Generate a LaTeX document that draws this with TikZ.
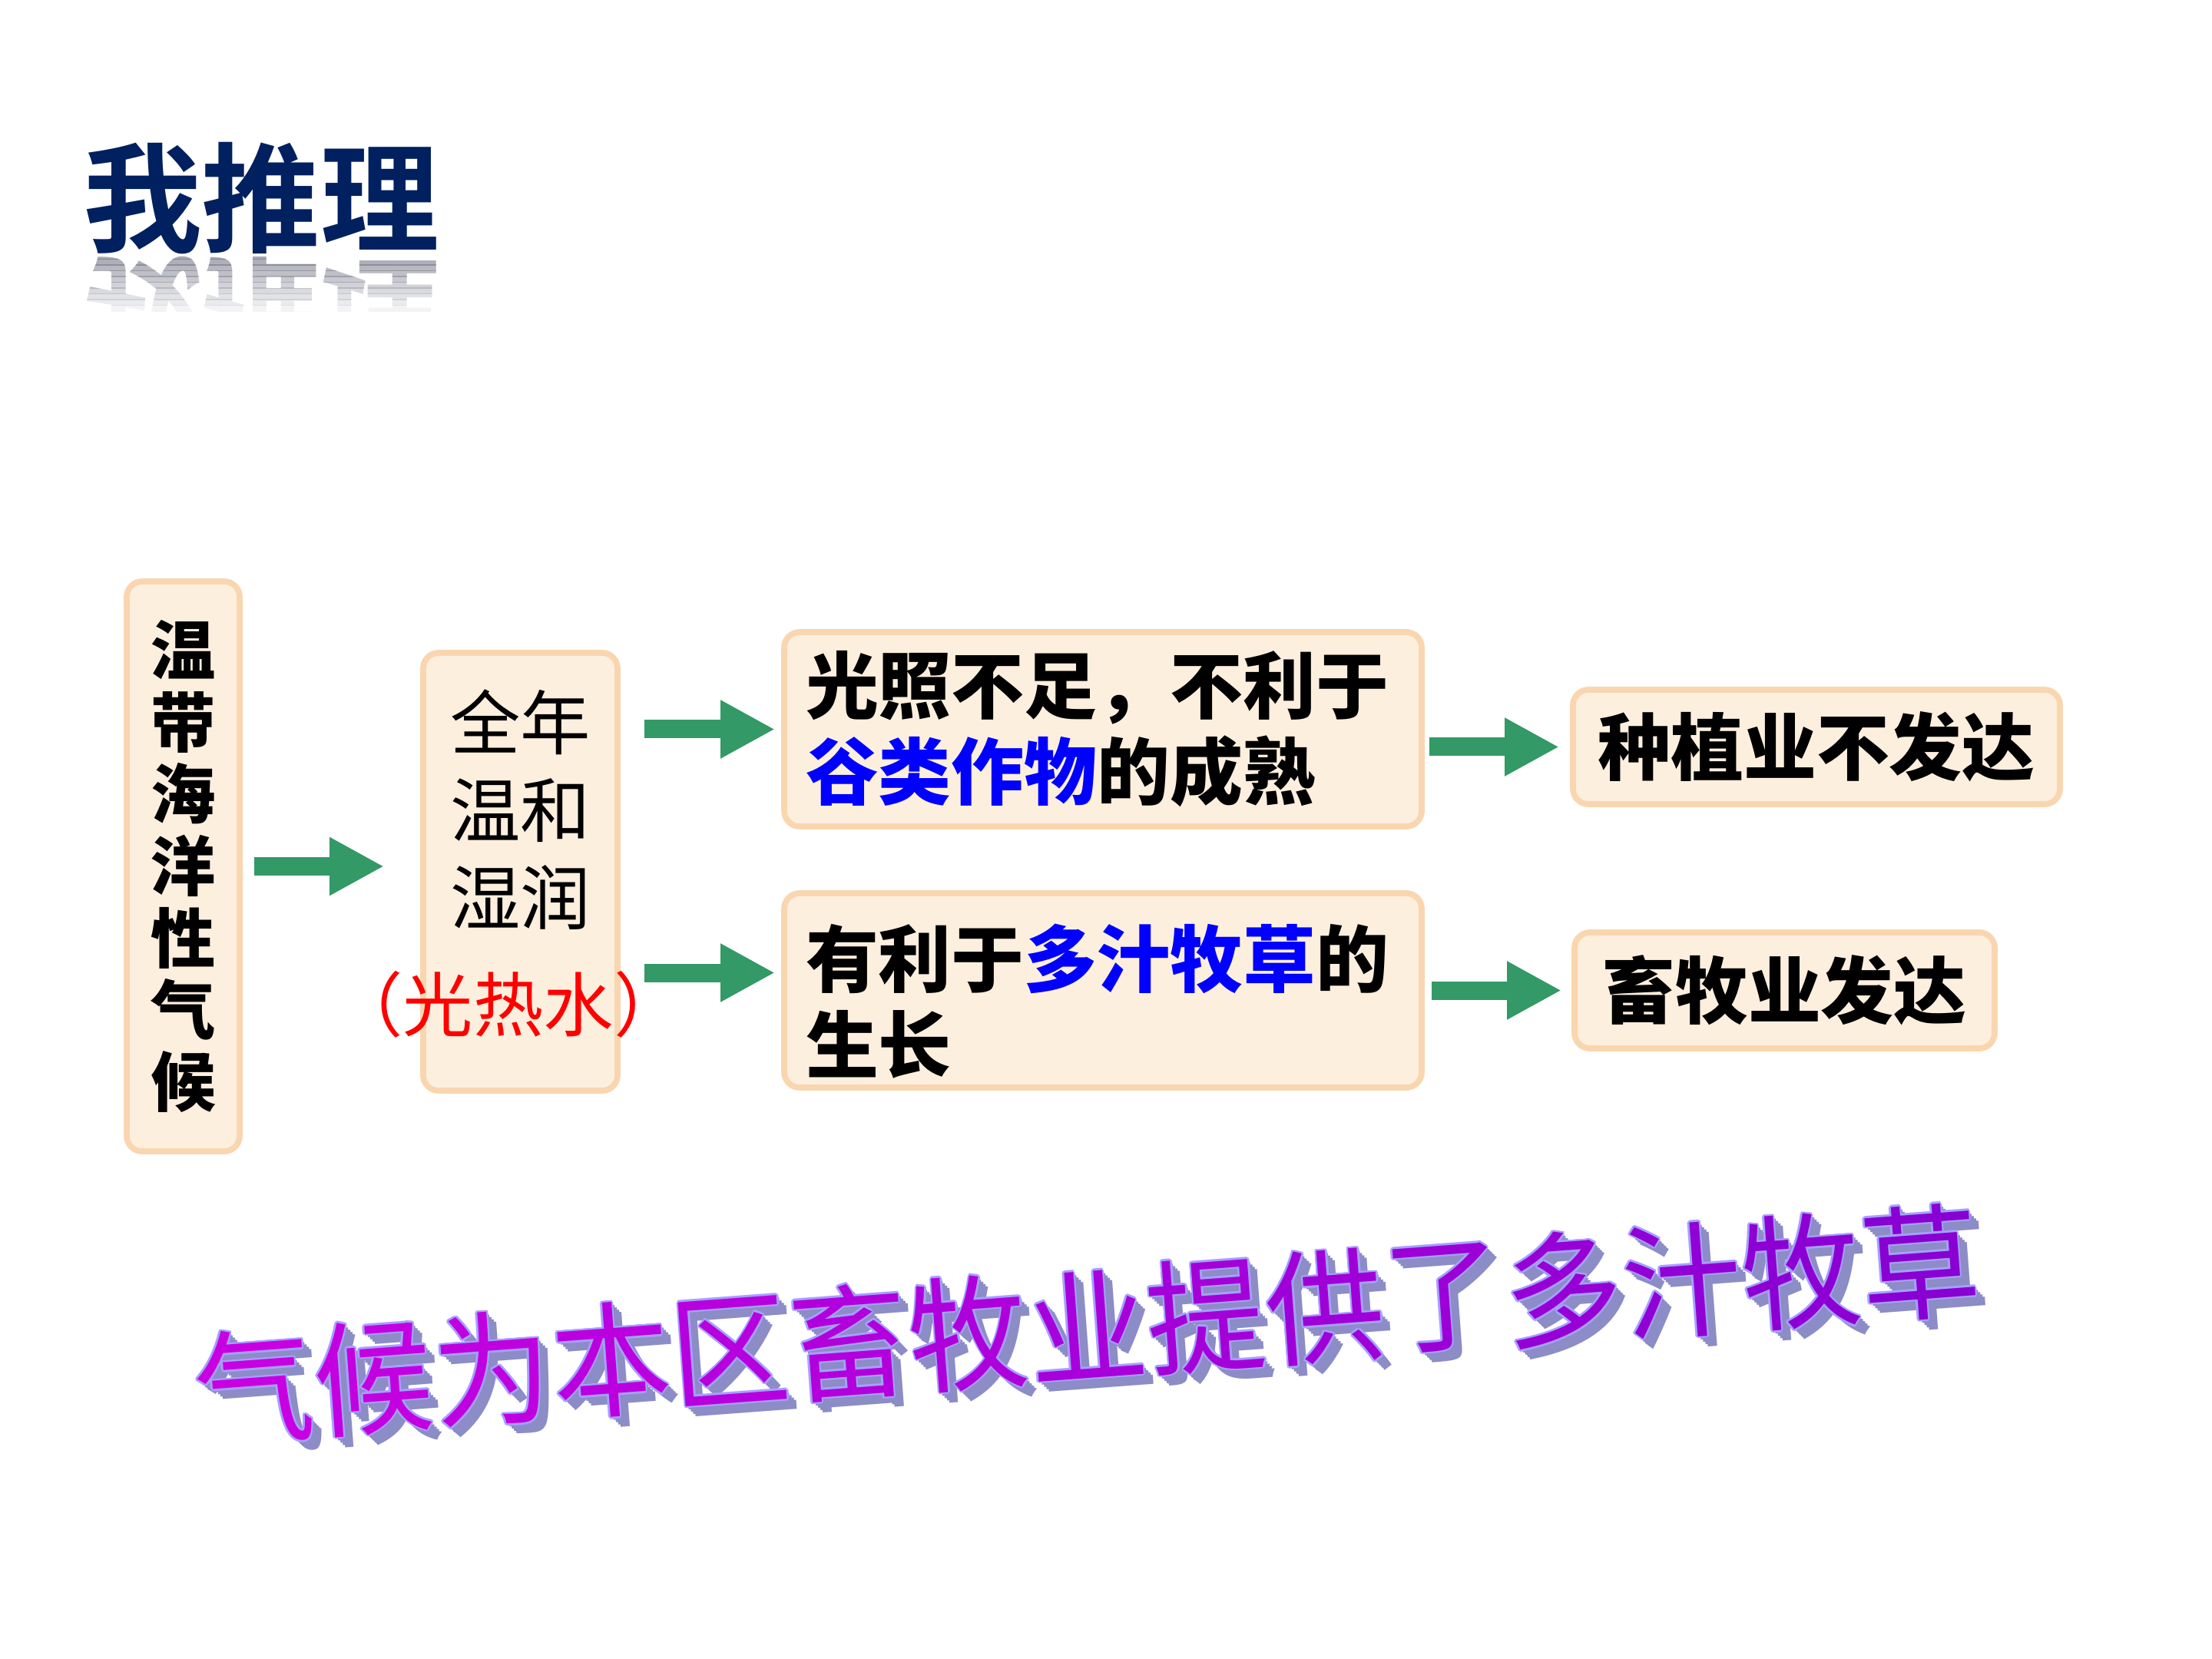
\documentclass[tikz,border=0pt]{standalone}
\usepackage{fontspec}
\usepackage{tikz}
\usetikzlibrary{arrows.meta}
\newfontfamily\hanzi{Noto Sans CJK SC}
\newfontfamily\hanzibold{Noto Sans CJK SC Bold}
\newfontfamily\hanziblack{Noto Sans CJK SC Black}
\definecolor{navy}{RGB}{0,32,96}
\definecolor{mirror}{RGB}{105,108,125}
\definecolor{boxfill}{RGB}{253,239,222}
\definecolor{boxline}{RGB}{249,214,176}
\definecolor{flow}{RGB}{51,153,102}
\definecolor{ink}{RGB}{0,0,255}
\definecolor{wafill}{RGB}{200,0,225}
\definecolor{waend}{RGB}{135,0,210}
\definecolor{waline}{RGB}{165,160,255}
\definecolor{washade}{RGB}{140,140,198}

\begin{document}
\begin{tikzpicture}[
  box/.style={draw=boxline,fill=boxfill,line width=2.2pt,rounded corners=2mm,inner sep=0pt,outer sep=0pt},
  push/.style={flow,line width=2.4mm,-{Triangle[width=7.1mm,length=7.1mm]}},
  big/.style={font=\hanziblack\fontsize{27}{31.9}\selectfont},
  wa/.style={font=\hanzi\fontsize{44}{44}\selectfont,rotate=4.25,yscale=1.05,inner sep=0pt},
  ]
\useasboundingbox (0,0) rectangle (28.8,-21.6);
\node[navy,font=\hanzibold\fontsize{44}{44}\selectfont,inner sep=0pt] (title) at (3.40,-2.58) {我推理};
\foreach \k in {0,...,9}{
  \begin{scope}
    \clip (0.5,{-3.30-0.075*\k}) rectangle (6.5,{-3.376-0.075*\k});
    \node[text=mirror,text opacity={0.6-0.058*\k},font=\hanzibold\fontsize{44}{44}\selectfont,inner sep=0pt,yscale=-1,anchor=base] (refl\k) at (3.40,-3.49) {我推理};
  \end{scope}
}

\node[box,minimum width=1.47cm,minimum height=7.42cm,align=center,font=\hanziblack\fontsize{24}{26.65}\selectfont] (clim) at (2.385,-11.28) {温\\带\\海\\洋\\性\\气\\候};
\node[box,minimum width=2.53cm,minimum height=5.70cm] (mid) at (6.775,-11.35) {};
\node[align=center,inner sep=0pt,font=\hanzi\fontsize{26}{32.4}\selectfont] (midtxt) at (6.775,-10.54) {全年\\温和\\湿润};
\node[red,inner sep=0pt,font=\hanzi\fontsize{26}{26}\selectfont] (heat) at (6.62,-13.08) {（光热水）};
\node[box,big,minimum width=8.30cm,minimum height=2.53cm,text width=7.74cm,align=left] (up) at (14.36,-9.495) {光照不足，不利于\\\textcolor{ink}{谷类作物}的成熟};
\node[box,minimum width=8.30cm,minimum height=2.53cm] (low) at (14.36,-12.895) {};
\node[big,inner sep=0pt,text width=7.74cm,align=left] (lowtxt) at ([yshift=-1.4mm]low) {有利于\textcolor{ink}{多汁牧草}的\\生长};
\node[box,big,minimum width=6.34cm,minimum height=1.49cm] (plant) at (23.65,-9.725) {种植业不发达};
\node[box,big,minimum width=5.47cm,minimum height=1.51cm] (herd) at (23.235,-12.895) {畜牧业发达};
\coordinate (lowin) at ([yshift=2.3mm]low.west);

\draw[push,shorten <=1.9mm,shorten >=5.1mm] (clim.east) -- (clim.east -| mid.west);
\draw[push,shorten <=3.5mm,shorten >=1.2mm] (mid.east |- up.west) -- (up.west);
\draw[push,shorten <=3.5mm,shorten >=1.2mm] (mid.east |- lowin) -- (lowin);
\draw[push,shorten <=1mm,shorten >=1.8mm] (up.east |- plant.west) -- (plant.west);
\draw[push,shorten <=1.3mm,shorten >=1.7mm] (low.east) -- (herd.west);

\foreach \c [count=\i from 0] in {气,候,为,本,区,畜,牧,业,提,供,了,多,汁,牧,草}{
  \pgfmathtruncatemacro\m{100-7*\i}
  \coordinate (wa\i) at ({3.31+1.549*\i},{-18.05+0.115*\i});
  \foreach \s [count=\j] in {0.13,0.10,0.07,0.04}
    \node[wa,text=washade] (sh\i-\j) at ([shift={(\s,-\s)}]wa\i) {\c};
  \foreach \dx/\dy [count=\j] in {0.025/0,-0.025/0,0/0.025,0/-0.025,0.018/0.018,-0.018/0.018,0.018/-0.018,-0.018/-0.018}
    \node[wa,text=waline] (ol\i-\j) at ([shift={(\dx,\dy)}]wa\i) {\c};
  \node[wa,text=wafill!\m!waend] (ch\i) at (wa\i) {\c};
}
\end{tikzpicture}
\end{document}
